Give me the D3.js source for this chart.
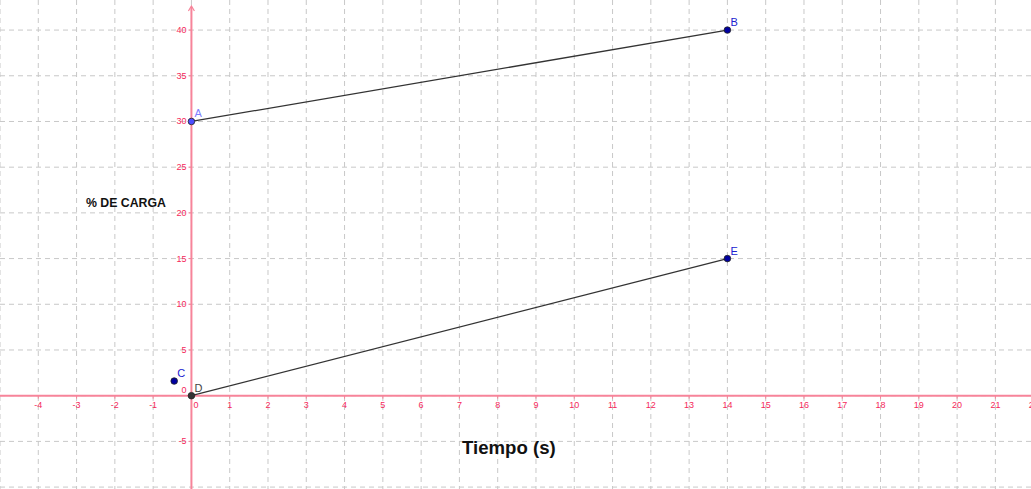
<!DOCTYPE html>
<html>
<head>
<meta charset="utf-8">
<script src="https://cdn.jsdelivr.net/npm/d3@7"></script>
<style>
  body { margin: 0; background: #fff; }
  svg { display: block; }
</style>
</head>
<body>
<svg width="1031" height="489"></svg>
<script>
// The points of the drawing
var pointNames = ["A", "B", "C", "D", "E"];
var pointX = [0, 14, -0.45, 0, 14];
var pointY = [30, 40, 1.6, 0, 15];

// Segments between points
var segments = [["A", "B"], ["D", "E"]];

// Tick labels
var xTicks = [-4, -3, -2, -1, 1, 2, 3, 4, 5, 6, 7, 8, 9, 10, 11, 12, 13, 14, 15, 16, 17, 18, 19, 20, 21, 22];
var yTicks = [-5, 5, 10, 15, 20, 25, 30, 35, 40];

var svg = d3.select("svg"),
    width = +svg.attr("width"),
    height = +svg.attr("height");

var x = d3.scaleLinear().domain([-5, 21.93]).range([0, width]);
var y = d3.scaleLinear().domain([-10.21, 43.29]).range([height, 0]);

var axisColor = "#f7849a", labelColor = "#f5285a";

// grid
svg.append("g")
  .selectAll("line")
  .data(d3.range(-5, 23))
  .enter().append("line")
    .attr("x1", function(d){ return x(d) }).attr("x2", function(d){ return x(d) })
    .attr("y1", 0).attr("y2", height)
    .attr("stroke", "#c8c8c8").attr("stroke-dasharray", "5,4");
svg.append("g")
  .selectAll("line")
  .data(d3.range(-10, 45, 5))
  .enter().append("line")
    .attr("y1", function(d){ return y(d) }).attr("y2", function(d){ return y(d) })
    .attr("x1", 0).attr("x2", width)
    .attr("stroke", "#c8c8c8").attr("stroke-dasharray", "5,4");

// axes
svg.append("line").attr("x1", 0).attr("x2", width).attr("y1", y(0)).attr("y2", y(0))
  .attr("stroke", axisColor).attr("stroke-width", 2);
svg.append("line").attr("x1", x(0)).attr("x2", x(0)).attr("y1", 7).attr("y2", height)
  .attr("stroke", axisColor).attr("stroke-width", 2);
svg.append("path")
  .attr("d", "M" + (x(0) - 3) + ",11 L" + x(0) + ",6 L" + (x(0) + 3) + ",11")
  .attr("fill", "none").attr("stroke", axisColor).attr("stroke-width", 1.2);

// x ticks
var xt = svg.append("g").selectAll("g").data(xTicks).enter().append("g");
xt.append("line")
  .attr("x1", function(d){ return x(d) }).attr("x2", function(d){ return x(d) })
  .attr("y1", y(0)).attr("y2", y(0) + 3)
  .attr("stroke", axisColor);
xt.append("text")
  .attr("x", function(d){ return x(d) })
  .attr("y", y(0) + 12)
  .attr("text-anchor", "middle")
  .style("font-family", "Liberation Sans, Arial, sans-serif")
  .style("font-size", "9px")
  .style("fill", labelColor)
  .text(function(d){ return d });

// y ticks
var yt = svg.append("g").selectAll("g").data(yTicks).enter().append("g");
yt.append("line")
  .attr("x1", x(0) - 3).attr("x2", x(0))
  .attr("y1", function(d){ return y(d) }).attr("y2", function(d){ return y(d) })
  .attr("stroke", axisColor);
yt.append("text")
  .attr("x", x(0) - 5)
  .attr("y", function(d){ return y(d) + 3 })
  .attr("text-anchor", "end")
  .style("font-family", "Liberation Sans, Arial, sans-serif")
  .style("font-size", "9px")
  .style("fill", labelColor)
  .text(function(d){ return d });

// the two zeros at the origin
svg.append("text").attr("x", x(0) + 2).attr("y", y(0) + 12)
  .style("font-family", "Liberation Sans, Arial, sans-serif").style("font-size", "9px")
  .style("fill", labelColor).text("0");
svg.append("text").attr("x", x(0) - 5).attr("y", y(0) - 3).attr("text-anchor", "end")
  .style("font-family", "Liberation Sans, Arial, sans-serif").style("font-size", "9px")
  .style("fill", labelColor).text("0");

// segments
function idx(n){ return pointNames.indexOf(n) }
svg.append("g").selectAll("line").data(segments).enter().append("line")
  .attr("x1", function(d){ return x(pointX[idx(d[0])]) })
  .attr("y1", function(d){ return y(pointY[idx(d[0])]) })
  .attr("x2", function(d){ return x(pointX[idx(d[1])]) })
  .attr("y2", function(d){ return y(pointY[idx(d[1])]) })
  .attr("stroke", "#333").attr("stroke-width", 1.3);

// points
var fills = { A: "#4d4dff", B: "#0000a0", C: "#0000a0", D: "#333333", E: "#0000a0" };
var labelFills = { A: "#8080ff", B: "#2020d0", C: "#2020d0", D: "#444444", E: "#2020d0" };
var pts = svg.append("g").selectAll("g").data(pointNames).enter().append("g");
pts.append("circle")
  .attr("cx", function(d, i){ return x(pointX[i]) })
  .attr("cy", function(d, i){ return y(pointY[i]) })
  .attr("r", 3.3)
  .style("fill", function(d){ return fills[d] })
  .attr("stroke", "#222").attr("stroke-width", 0.8);
pts.append("text")
  .attr("x", function(d, i){ return x(pointX[i]) + 3 })
  .attr("y", function(d, i){ return y(pointY[i]) - 4 })
  .style("font-family", "Liberation Sans, Arial, sans-serif")
  .style("font-size", "11px")
  .style("fill", function(d){ return labelFills[d] })
  .text(function(d){ return d });

// titles
svg.append("text").attr("x", 86).attr("y", 207)
  .style("font-family", "Liberation Sans, Arial, sans-serif")
  .style("font-size", "12.3px").style("font-weight", "bold").style("fill", "#111")
  .text("% DE CARGA");
svg.append("text").attr("x", 462).attr("y", 454)
  .style("font-family", "Liberation Sans, Arial, sans-serif")
  .style("font-size", "18.6px").style("font-weight", "bold").style("fill", "#111")
  .text("Tiempo (s)");
</script>
</body>
</html>
